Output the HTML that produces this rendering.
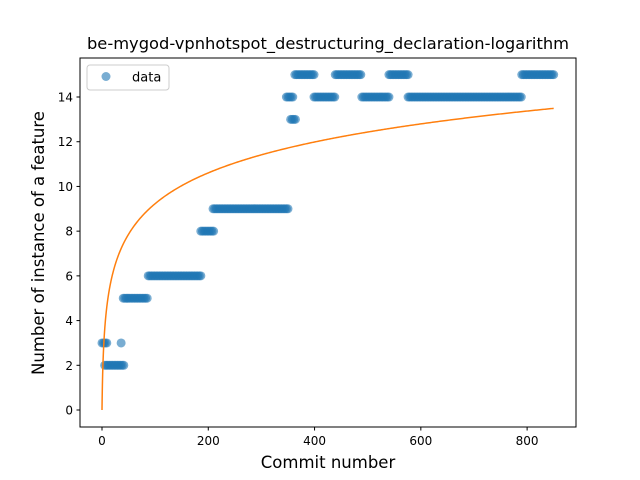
<!DOCTYPE html>
<html><head><meta charset="utf-8"><style>
body{margin:0;background:#fff}
svg{display:block;font-family:"DejaVu Sans","Liberation Sans",sans-serif}
</style></head><body>
<svg id="chart" width="640" height="480">
<rect width="640" height="480" fill="#fff"/>
<text x="328" y="49" text-anchor="middle" font-size="16.3" fill="#000">be-mygod-vpnhotspot_destructuring_declaration-logarithm</text>
<g id="points"></g>
<g id="fit"></g>
<g id="axes"></g>
<rect x="80" y="58" width="496" height="369" fill="none" stroke="#000" stroke-width="1"/>
<text x="328" y="468" text-anchor="middle" font-size="16.5">Commit number</text>
<text x="0" y="0" transform="translate(44,243) rotate(-90)" text-anchor="middle" font-size="16.5">Number of instance of a feature</text>
<g>
<rect x="87" y="65" width="82" height="25" rx="3" fill="#fff" stroke="#ccc"/>
<circle cx="106" cy="76.5" r="4.5" fill="#1f77b4" fill-opacity="0.6"/>
<text x="132" y="81.5" font-size="13">data</text>
</g>
</svg>
<script>
const segStarts = [0, 5, 36, 40, 87, 186, 209, 347, 355, 363, 399, 439, 489, 540, 576, 790];
const segEnds   = [10, 43, 38, 85, 186, 210, 350, 360, 365, 401, 438, 489, 542, 578, 790, 851];
const segValues = [3, 2, 3, 5, 6, 8, 9, 14, 13, 15, 14, 15, 14, 15, 14, 15];
const fitCoef = 2.0;
const xTicks = [0, 200, 400, 600, 800];
const yTicks = [0, 2, 4, 6, 8, 10, 12, 14];
const xMin=-41.4, xMax=892, yMin=-0.76, yMax=15.745;
const L=80,R=576,T=58,B=427;
const sx=v=>L+(v-xMin)/(xMax-xMin)*(R-L);
const sy=v=>B-(v-yMin)/(yMax-yMin)*(B-T);
const NS="http://www.w3.org/2000/svg";
const pts=document.getElementById('points');
for(let s=0;s<segStarts.length;s++){
  for(let x=segStarts[s];x<=segEnds[s];x+=3){
    const c=document.createElementNS(NS,'circle');
    c.setAttribute('cx',sx(x));c.setAttribute('cy',sy(segValues[s]));
    c.setAttribute('r',4.5);c.setAttribute('fill','#1f77b4');c.setAttribute('fill-opacity','0.6');
    
    
    pts.appendChild(c);
  }
}
let d='';
for(let x=0;x<=850;x+=(x<20?0.25:2)){d+=(d?'L':'M')+sx(x).toFixed(2)+','+sy(fitCoef*Math.log(x+1)).toFixed(2);}
const p=document.createElementNS(NS,'path');
p.setAttribute('d',d);p.setAttribute('fill','none');p.setAttribute('stroke','#ff7f0e');p.setAttribute('stroke-width','1.5');


document.getElementById('fit').appendChild(p);
const ax=document.getElementById('axes');
xTicks.forEach(t=>{
  const l=document.createElementNS(NS,'line');
  l.setAttribute('x1',sx(t));l.setAttribute('x2',sx(t));l.setAttribute('y1',B);l.setAttribute('y2',B+3.5);l.setAttribute('stroke','#000');
  
  
  ax.appendChild(l);
  const tx=document.createElementNS(NS,'text');
  tx.setAttribute('x',sx(t));tx.setAttribute('y',B+18);tx.setAttribute('text-anchor','middle');tx.setAttribute('font-size','12');
  tx.textContent=t;
  
  
  ax.appendChild(tx);
});
yTicks.forEach(t=>{
  const l=document.createElementNS(NS,'line');
  l.setAttribute('x1',L-3.5);l.setAttribute('x2',L);l.setAttribute('y1',sy(t));l.setAttribute('y2',sy(t));l.setAttribute('stroke','#000');
  
  
  ax.appendChild(l);
  const tx=document.createElementNS(NS,'text');
  tx.setAttribute('x',L-7);tx.setAttribute('y',sy(t)+4.5);tx.setAttribute('text-anchor','end');tx.setAttribute('font-size','12');
  tx.textContent=t;
  
  
  ax.appendChild(tx);
});
</script>
</body></html>
